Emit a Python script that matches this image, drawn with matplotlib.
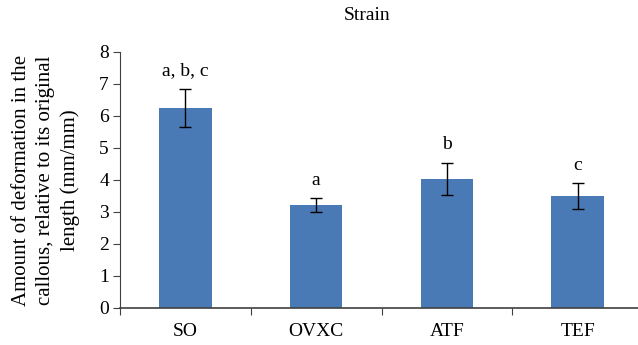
import matplotlib.pyplot as plt

groups = ["SO", "OVXC", "ATF", "TEF"]
strain = [6.25, 3.22, 4.03, 3.5]
strain_err = [0.59, 0.21, 0.5, 0.4]
letters = ["a, b, c", "a", "b", "c"]

plt.rcParams["font.family"] = ["Liberation Serif", "DejaVu Serif"]

fig = plt.figure(figsize=(6.38, 3.45), dpi=100)
ax = fig.add_axes([120 / 638, 37 / 345, 523 / 638, 256 / 345])

x = range(len(groups))
ax.bar(x, strain, width=0.4, color="#4a7ab5", zorder=2)
ax.errorbar(x, strain, yerr=strain_err, fmt="none", ecolor="black",
            elinewidth=1, capsize=4, capthick=1, zorder=3)

for i, lab in enumerate(letters):
    ax.text(i, strain[i] + strain_err[i] + 0.3, lab, ha="center", va="bottom",
            fontsize=14)

ax.set_xlim(-0.5, 3.5)
ax.set_ylim(0, 8)
ax.set_yticks(range(9))
ax.set_xticks([-0.5, 0.5, 1.5, 2.5, 3.5])
ax.set_xticklabels([])
ax.set_xticks(list(x), minor=True)
ax.set_xticklabels(groups, minor=True)
ax.tick_params(axis="x", which="minor", length=0, pad=11, labelsize=14)
ax.tick_params(axis="x", which="major", length=5, color="#404040", direction="out")
ax.tick_params(axis="y", length=5, color="#404040", labelsize=14, pad=3)

for side in ["top", "right"]:
    ax.spines[side].set_visible(False)
ax.spines["left"].set_color("#404040")
ax.spines["bottom"].set_color("#404040")
ax.spines["bottom"].set_linewidth(1.2)

# y label placed by hand so the three lines sit like the original
fig.text(46 / 638, 1 - 180 / 345,
         "Amount of deformation in the\ncallous, relative to its original\nlength (mm/mm)",
         rotation=90, ha="center", va="center", multialignment="center",
         fontsize=15, linespacing=1.35)

fig.text(367 / 638, 1 - 15 / 345, "Strain", ha="center", va="center", fontsize=14)

fig.savefig("out.png", dpi=100)
